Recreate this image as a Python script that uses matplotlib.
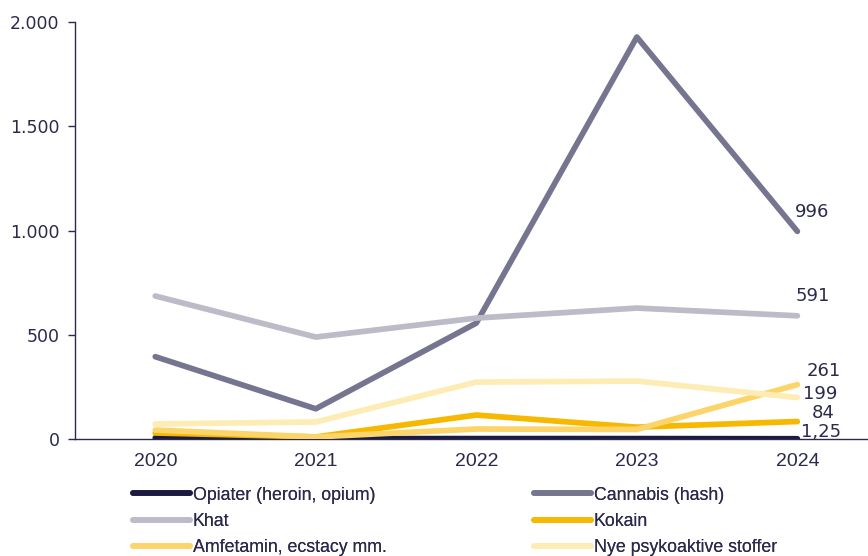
import matplotlib
matplotlib.use("Agg")
import matplotlib.pyplot as plt
from matplotlib.ticker import FuncFormatter, FixedLocator

years = [2020, 2021, 2022, 2023, 2024]
series_names = ["Opiater (heroin, opium)", "Cannabis (hash)", "Khat", "Kokain",
                "Amfetamin, ecstacy mm.", "Nye psykoaktive stoffer"]
opiater = [5, 2, 2, 2, 1.25]
cannabis = [395, 145, 556, 1928, 996]
khat = [686, 489, 580, 628, 591]
kokain = [29, 10, 115, 57, 84]
amfetamin = [43, 10, 48, 46, 261]
nye = [72, 82, 273, 278, 199]
end_labels = ["1,25", "996", "591", "84", "261", "199"]
yticks = [0, 500, 1000, 1500, 2000]

colors = ["#1b1a42", "#76758f", "#bcbbc8", "#f6b800", "#fbd46a", "#fdecb4"]
label_offsets = [(4, 7), (-2, 19), (-2, 20), (14, 9), (9, 14), (6, 4)]
text_color = "#2b2a4c"

data = [opiater, cannabis, khat, kokain, amfetamin, nye]

fig = plt.figure(figsize=(8.68, 5.56), dpi=100)
ax = fig.add_axes([0.0864, 0.2104, 0.9136, 0.75])

LW = 4.1
lines = []
for i, (name, vals, c) in enumerate(zip(series_names, data, colors)):
    z = 3 + i
    if i == 0:
        z = 2.5
    ln, = ax.plot(years, vals, color=c, lw=LW, solid_capstyle="round",
                  solid_joinstyle="round", label=name, zorder=z)
    lines.append(ln)

for i, vals in enumerate(data):
    dx, dy = label_offsets[i]
    ax.annotate(end_labels[i], xy=(years[-1], vals[-1]), xytext=(dx, dy),
                textcoords="offset pixels", ha="left", va="center",
                fontsize=13, color=text_color, zorder=20)

ax.set_xlim(2019.5, 2024.44)
ax.set_ylim(0, 2000)
ax.yaxis.set_major_locator(FixedLocator(yticks))
ax.yaxis.set_major_formatter(FuncFormatter(lambda v, p: f"{int(v):,}".replace(",", ".")))
ax.set_xticks(years)
ax.set_xticklabels([str(y) for y in years], fontsize=14, color=text_color,
                   family="Liberation Sans")
ax.tick_params(axis="x", length=0, pad=10)
ax.tick_params(axis="y", length=5, width=1, color=text_color, labelsize=12.5,
               labelcolor=text_color, pad=6)
for s in ["top", "right"]:
    ax.spines[s].set_visible(False)
ax.spines["left"].set_color(text_color)
ax.spines["bottom"].set_color(text_color)
ax.spines["left"].set_linewidth(1)
ax.spines["bottom"].set_linewidth(1)

legprops = {"family": "Liberation Sans", "size": 12.8}
cols = [[0, 2, 4], [1, 3, 5]]
anchors = [133 / 868, 534 / 868]
for col, xa in zip(cols, anchors):
    leg = fig.legend([lines[i] for i in col], [series_names[i] for i in col],
                     ncol=1, loc="upper left", bbox_to_anchor=(xa, 1 - 486.5 / 556),
                     frameon=False, handlelength=3.2, handletextpad=0.15,
                     labelspacing=0.52, prop=legprops,
                     borderaxespad=0, borderpad=0)
    for t in leg.get_texts():
        t.set_color(text_color)
    for h in leg.legend_handles:
        h.set_linewidth(LW)
        h.set_solid_capstyle("round")
    fig.add_artist(leg)

fig.savefig("out.png", dpi=100)
